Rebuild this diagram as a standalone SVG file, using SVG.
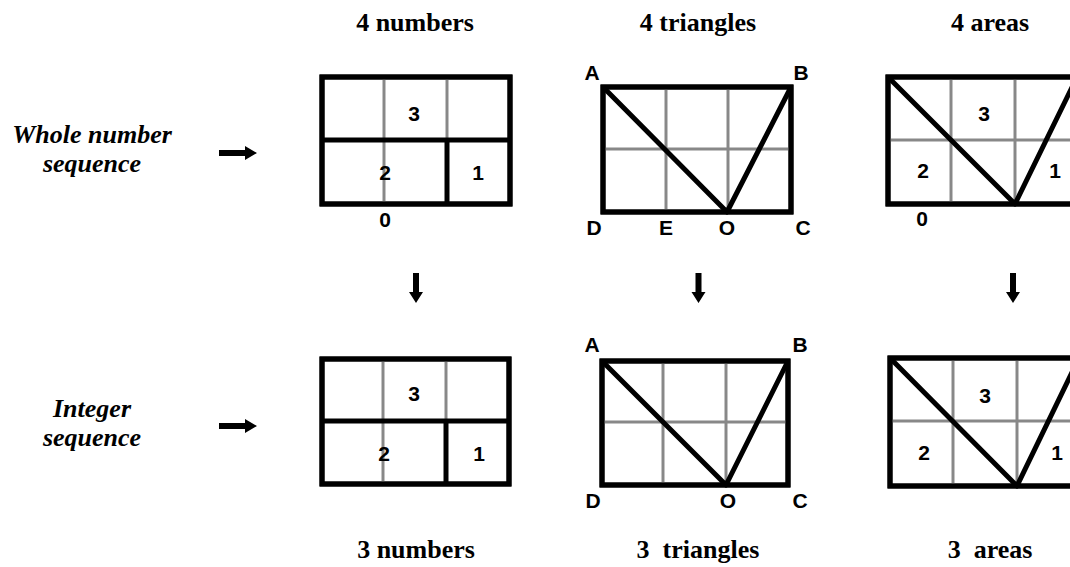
<svg xmlns="http://www.w3.org/2000/svg" width="1070" height="567" viewBox="0 0 1070 567">
<style>
.head{font-family:"Liberation Serif","Times New Roman",serif;font-weight:bold;font-size:26px;text-anchor:middle;white-space:pre;fill:#000}
.side{font-family:"Liberation Serif","Times New Roman",serif;font-weight:bold;font-style:italic;font-size:26px;text-anchor:middle;fill:#000}
.lbl{font-family:"Liberation Sans",Arial,sans-serif;font-weight:bold;font-size:21px;text-anchor:middle;fill:#000}
.frame{fill:#fff;stroke:#000;stroke-width:5}
.grid{stroke:#888;stroke-width:3;fill:none}
.thick{stroke:#000;stroke-width:5;fill:none;stroke-linejoin:round}
.arr{fill:#000}
</style>
<rect width="1070" height="567" fill="#fff"/>

<g id="headings">
<text class="head" x="415" y="31">4 numbers</text>
<text class="head" x="698" y="31">4 triangles</text>
<text class="head" x="990" y="31">4 areas</text>
<text class="head" x="416" y="558">3 numbers</text>
<text class="head" x="698" y="558">3  triangles</text>
<text class="head" x="990" y="558">3  areas</text>
</g>

<g id="label-whole">
<text class="side" x="92" y="143">Whole number</text>
<text class="side" x="92" y="172">sequence</text>
</g>
<g id="label-integer">
<text class="side" x="92" y="417">Integer</text>
<text class="side" x="92" y="446">sequence</text>
</g>

<g id="top-numbers">
<rect class="frame" x="322" y="77" width="188" height="127"/>
<line class="grid" x1="384" y1="77" x2="384" y2="204"/>
<line class="grid" x1="447" y1="77" x2="447" y2="140"/>
<line class="thick" x1="322" y1="140" x2="510" y2="140"/>
<line class="thick" x1="447" y1="140" x2="447" y2="204"/>
<rect class="frame" x="322" y="77" width="188" height="127" style="fill:none"/>
<text class="lbl" x="414" y="120.5">3</text>
<text class="lbl" x="385" y="179.5">2</text>
<text class="lbl" x="478" y="179.5">1</text>
<text class="lbl" x="385" y="226.5">0</text>
</g>

<g id="top-triangles">
<rect class="frame" x="603" y="87" width="188" height="125"/>
<line class="grid" x1="666" y1="87" x2="666" y2="212"/>
<line class="grid" x1="728" y1="87" x2="728" y2="212"/>
<line class="grid" x1="603" y1="149" x2="791" y2="149"/>
<polyline class="thick" points="603,87 727,212 791,87"/>
<rect class="frame" x="603" y="87" width="188" height="125" style="fill:none"/>
<text class="lbl" x="592" y="79.5">A</text>
<text class="lbl" x="801" y="79.5">B</text>
<text class="lbl" x="594" y="234.5">D</text>
<text class="lbl" x="666" y="234.5">E</text>
<text class="lbl" x="727" y="234.5">O</text>
<text class="lbl" x="803" y="234.5">C</text>
</g>

<g id="top-areas">
<rect class="frame" x="888" y="77" width="189" height="127"/>
<line class="grid" x1="951" y1="77" x2="951" y2="204"/>
<line class="grid" x1="1015" y1="77" x2="1015" y2="204"/>
<line class="grid" x1="888" y1="140" x2="1077" y2="140"/>
<polyline class="thick" points="888,77 1015,204 1077,77"/>
<rect class="frame" x="888" y="77" width="189" height="127" style="fill:none"/>
<text class="lbl" x="984" y="120.5">3</text>
<text class="lbl" x="923" y="177.5">2</text>
<text class="lbl" x="1055" y="177.5">1</text>
<text class="lbl" x="922" y="225.5">0</text>
</g>

<g id="bottom-numbers">
<rect class="frame" x="322" y="359" width="187" height="125"/>
<line class="grid" x1="383" y1="359" x2="383" y2="484"/>
<line class="grid" x1="446" y1="359" x2="446" y2="421"/>
<line class="thick" x1="322" y1="421" x2="509" y2="421"/>
<line class="thick" x1="446" y1="421" x2="446" y2="484"/>
<rect class="frame" x="322" y="359" width="187" height="125" style="fill:none"/>
<text class="lbl" x="414" y="400.5">3</text>
<text class="lbl" x="384" y="460.5">2</text>
<text class="lbl" x="479" y="460.5">1</text>
</g>

<g id="bottom-triangles">
<rect class="frame" x="602" y="361" width="186" height="124"/>
<line class="grid" x1="663" y1="361" x2="663" y2="485"/>
<line class="grid" x1="726" y1="361" x2="726" y2="485"/>
<line class="grid" x1="602" y1="422" x2="788" y2="422"/>
<polyline class="thick" points="602,361 726,485 788,361"/>
<rect class="frame" x="602" y="361" width="186" height="124" style="fill:none"/>
<text class="lbl" x="592" y="351.5">A</text>
<text class="lbl" x="800" y="351.5">B</text>
<text class="lbl" x="593" y="507.5">D</text>
<text class="lbl" x="728" y="507.5">O</text>
<text class="lbl" x="800" y="507.5">C</text>
</g>

<g id="bottom-areas">
<rect class="frame" x="890" y="358" width="189" height="128"/>
<line class="grid" x1="953" y1="358" x2="953" y2="486"/>
<line class="grid" x1="1017" y1="358" x2="1017" y2="486"/>
<line class="grid" x1="890" y1="421" x2="1079" y2="421"/>
<polyline class="thick" points="890,358 1017,486 1079,358"/>
<rect class="frame" x="890" y="358" width="189" height="128" style="fill:none"/>
<text class="lbl" x="985" y="402.5">3</text>
<text class="lbl" x="924" y="459.5">2</text>
<text class="lbl" x="1057" y="459.5">1</text>
</g>

<g id="connectors">
<polygon class="arr" points="219,150 245,150 245,146 257,153 245,160 245,156 219,156"/>
<polygon class="arr" points="219,423 245,423 245,419 257,426 245,433 245,429 219,429"/>
<polygon class="arr" points="413,273 419,273 419,292 423,292 416,303 409,292 413,292"/>
<polygon class="arr" points="695.5,273 701.5,273 701.5,292 705.5,292 698.5,303 691.5,292 695.5,292"/>
<polygon class="arr" points="1010,273 1016,273 1016,292 1020,292 1013,303 1006,292 1010,292"/>
</g>
</svg>
